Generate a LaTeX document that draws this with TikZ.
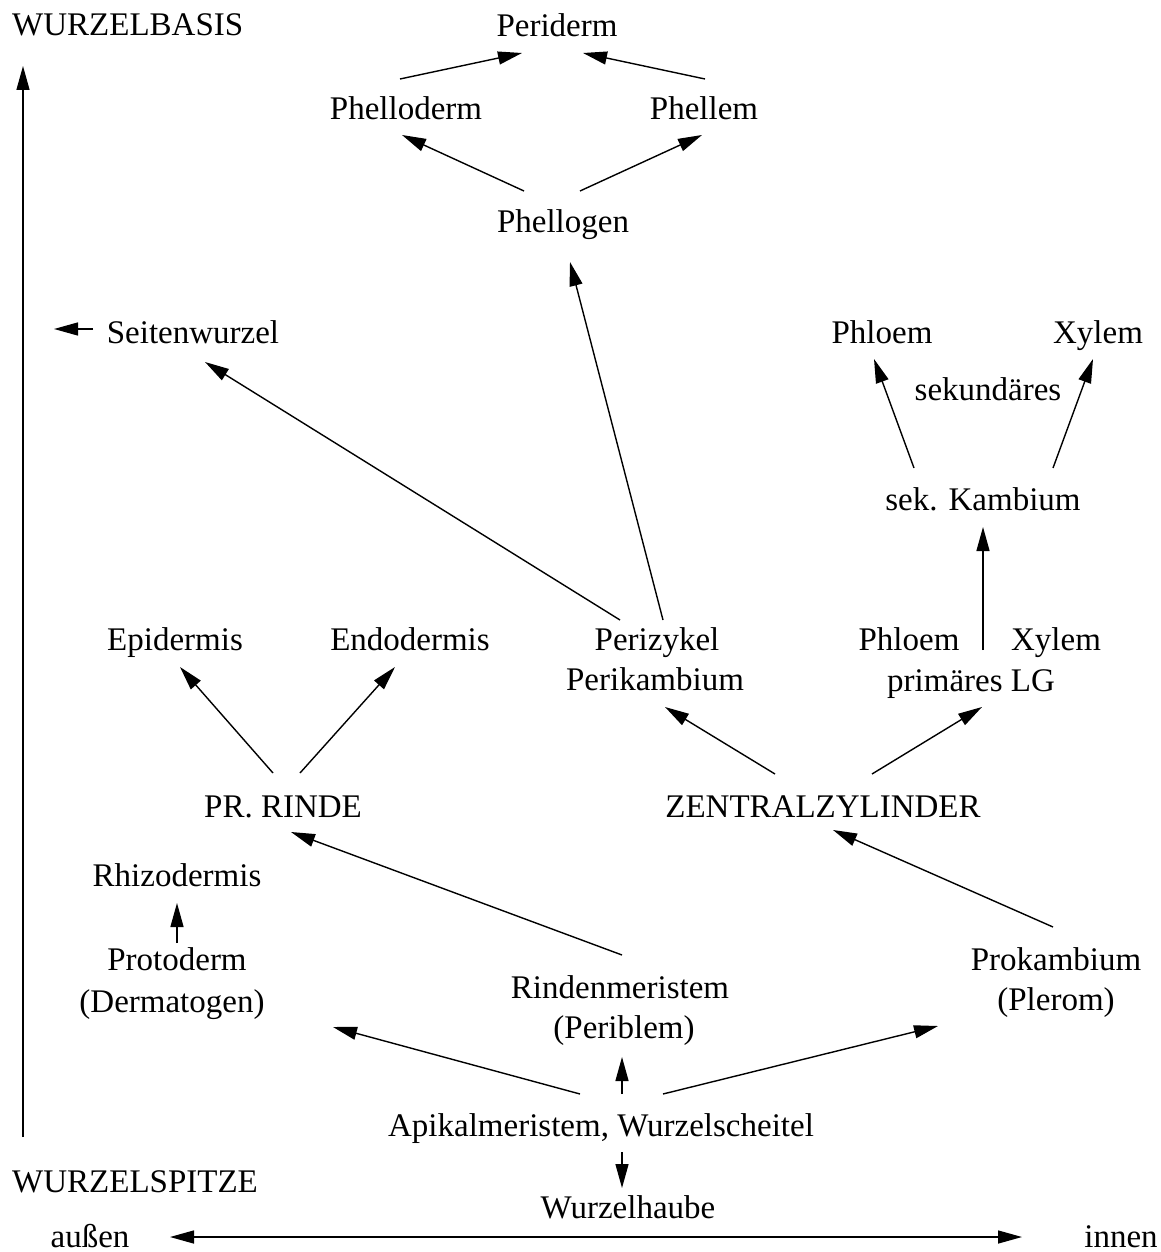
\documentclass[tikz,border=0pt]{standalone}
\usepackage{fontspec}
\setmainfont{Liberation Serif}
\usetikzlibrary{arrows.meta}
\tikzset{
  lab/.style={inner sep=0pt, anchor=base, font=\fontsize{33}{40}\selectfont},
  labw/.style={lab, anchor=base west},
  arr/.style={-{Triangle[length=24pt,width=13pt]}, line width=1.4pt},
  darr/.style={{Triangle[length=24pt,width=13pt]}-{Triangle[length=24pt,width=13pt]}, line width=1.4pt}
}
\begin{document}
\begin{tikzpicture}[x=1pt,y=-1pt]
\useasboundingbox (0,0) rectangle (1160,1252);
% nodes
\node[labw] (basis) at (12,36) {WURZELBASIS};
\node[lab] (periderm) at (557,37) {Periderm};
\node[lab] (phelloderm) at (406,120) {Phelloderm};
\node[lab] (phellem) at (704,120) {Phellem};
\node[lab] (phellogen) at (563,232) {Phellogen};
\node[lab] (seiten) at (193,343) {Seitenwurzel};
\node[lab] (phloemA) at (882,343) {Phloem};
\node[lab] (xylemA) at (1098,343) {Xylem};
\node[lab] (sekund) at (988,400) {sekundäres};
\node[lab] (sekkamb) at (983,510) {sek. Kambium};
\node[lab] (epid) at (175,650) {Epidermis};
\node[lab] (endo) at (410,650) {Endodermis};
\node[lab] (perizykel) at (657,650) {Perizykel};
\node[lab] (perikamb) at (655,690) {Perikambium};
\node[lab] (phloemB) at (909,650) {Phloem};
\node[lab] (xylemB) at (1056,650) {Xylem};
\node[lab] (primlg) at (971,691) {primäres LG};
\node[lab] (rinde) at (283,817) {PR. RINDE};
\node[lab] (zentral) at (823,817) {ZENTRALZYLINDER};
\node[lab] (rhizo) at (177,886) {Rhizodermis};
\node[lab] (protoderm) at (177,970) {Protoderm};
\node[lab] (dermatogen) at (172,1012) {(Dermatogen)};
\node[lab] (rindenm) at (620,998) {Rindenmeristem};
\node[lab] (periblem) at (624,1038) {(Periblem)};
\node[lab] (prokamb) at (1056,970) {Prokambium};
\node[lab] (plerom) at (1056,1010) {(Plerom)};
\node[lab] (apik) at (601,1136) {Apikalmeristem, Wurzelscheitel};
\node[labw] (spitze) at (12,1192) {WURZELSPITZE};
\node[lab] (haube) at (628,1218) {Wurzelhaube};
\node[lab] (aussen) at (90,1247) {außen};
\node[lab] (innen) at (1121,1247) {innen};
% connectors
\draw[arr] ([shift={(11,-55)}]spitze.base west) -- ([shift={(11,30)}]basis.base west);
\draw[arr] ([shift={(-6,-41)}]phelloderm.base) -- ([shift={(-35,16)}]periderm.base);
\draw[arr] ([shift={(1,-41)}]phellem.base) -- ([shift={(26,16)}]periderm.base);
\draw[arr] ([shift={(-39,-41)}]phellogen.base) -- ([shift={(-4,15)}]phelloderm.base);
\draw[arr] ([shift={(17,-41)}]phellogen.base) -- ([shift={(-2,15)}]phellem.base);
\draw[arr] ([shift={(6,-30)}]perizykel.base) -- ([shift={(7,30)}]phellogen.base);
\draw[arr] ([shift={(-37,-30)}]perizykel.base) -- ([shift={(12,19)}]seiten.base);
\draw[arr] ([shift={(-100,-14)}]seiten.base) -- ([shift={(-139,-14)}]seiten.base);
\draw[arr] ([shift={(-69,-42)}]sekkamb.base) -- ([shift={(-8,16)}]phloemA.base);
\draw[arr] ([shift={(70,-42)}]sekkamb.base) -- ([shift={(-5,16)}]xylemA.base);
\draw[arr] ([shift={(12,-41)}]primlg.base) -- ([shift={(0,17)}]sekkamb.base);
\draw[arr] ([shift={(-10,-44)}]rinde.base) -- ([shift={(5,17)}]epid.base);
\draw[arr] ([shift={(17,-44)}]rinde.base) -- ([shift={(-15,17)}]endo.base);
\draw[arr] ([shift={(-48,-43)}]zentral.base) -- ([shift={(10,17)}]perikamb.base);
\draw[arr] ([shift={(49,-43)}]zentral.base) -- ([shift={(11,16)}]primlg.base);
\draw[arr] ([shift={(2,-43)}]rindenm.base) -- ([shift={(8,15)}]rinde.base);
\draw[arr] ([shift={(-3,-43)}]prokamb.base) -- ([shift={(10,13)}]zentral.base);
\draw[arr] ([shift={(0,-27)}]protoderm.base) -- ([shift={(0,17)}]rhizo.base);
\draw[arr] ([shift={(-21,-42)}]apik.base) -- ([shift={(161,15)}]dermatogen.base);
\draw[arr] ([shift={(21,-42)}]apik.base) -- ([shift={(-2,19)}]periblem.base);
\draw[arr] ([shift={(62,-42)}]apik.base) -- ([shift={(-118,16)}]plerom.base);
\draw[arr] ([shift={(21,16)}]apik.base) -- ([shift={(-6,-30)}]haube.base);
\draw[darr] ([shift={(80,-10)}]aussen.base) -- ([shift={(-99,-10)}]innen.base);
\end{tikzpicture}
\end{document}
